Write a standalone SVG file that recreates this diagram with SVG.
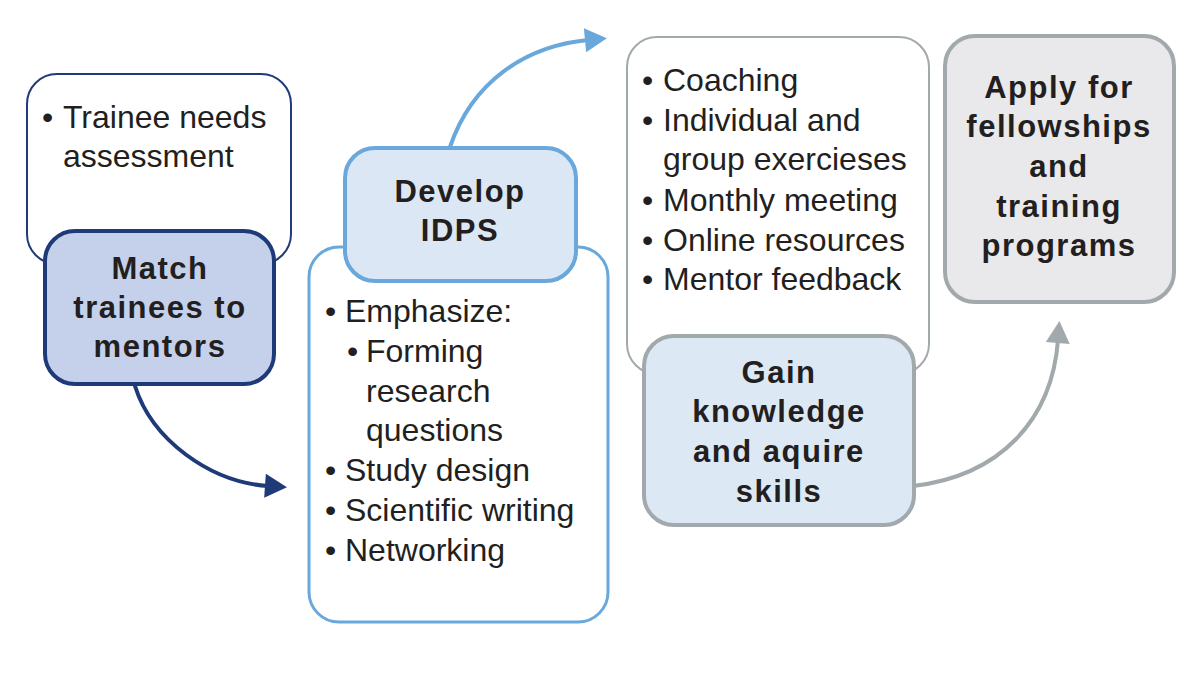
<svg xmlns="http://www.w3.org/2000/svg" width="1200" height="675" viewBox="0 0 1200 675">
<style>
.t{font-family:"Liberation Sans",Arial,sans-serif;font-size:32px;fill:#231f20}
.b{font-family:"Liberation Sans",Arial,sans-serif;font-size:31px;font-weight:bold;fill:#231f20;letter-spacing:1.5px;text-anchor:middle}
</style>
<defs>
<marker id="mNavy" markerWidth="8" markerHeight="8" refX="1" refY="4" orient="auto" markerUnits="userSpaceOnUse" viewBox="0 0 8 8" overflow="visible">
<path d="M-2,-12 L20,0 L-2,12 Z" transform="translate(0,4)" fill="#1f3a78"/>
</marker>
<marker id="mBlue" markerWidth="8" markerHeight="8" refX="1" refY="4" orient="auto" markerUnits="userSpaceOnUse" viewBox="0 0 8 8" overflow="visible">
<path d="M-2,-12 L20,0 L-2,12 Z" transform="translate(0,4)" fill="#6aa8dc"/>
</marker>
<marker id="mGray" markerWidth="8" markerHeight="8" refX="1" refY="4" orient="auto" markerUnits="userSpaceOnUse" viewBox="0 0 8 8" overflow="visible">
<path d="M-2,-12 L20,0 L-2,12 Z" transform="translate(0,4)" fill="#a2a9ac"/>
</marker>
</defs>
<rect width="1200" height="675" fill="#ffffff"/>

<g id="connectors" fill="none" stroke-linecap="round">
<path d="M135,386 C152,440 210,482 268,486" stroke="#1f3a78" stroke-width="4" marker-end="url(#mNavy)"/>
<path d="M450,147 C472,82 525,46 588,40" stroke="#6aa8dc" stroke-width="4" marker-end="url(#mBlue)"/>
<path d="M913,486 C1000,476 1052,420 1058,340" stroke="#a2a9ac" stroke-width="4" marker-end="url(#mGray)"/>
</g>

<g id="trainee-needs">
<rect x="27" y="74" width="264" height="190" rx="30" fill="#ffffff" stroke="#1f3a78" stroke-width="2"/>
<text class="t" x="42" y="128">•</text>
<text class="t" x="63" y="128">Trainee needs</text>
<text class="t" x="63" y="167">assessment</text>
</g>

<g id="match">
<rect x="45" y="231" width="229" height="153" rx="30" fill="#c5d1eb" stroke="#1f3a78" stroke-width="4"/>
<text class="b" x="160" y="279">Match</text>
<text class="b" x="160" y="318">trainees to</text>
<text class="b" x="160" y="357">mentors</text>
</g>

<g id="emphasize">
<rect x="309" y="247" width="299" height="375" rx="30" fill="#ffffff" stroke="#6aa8dc" stroke-width="3"/>
<text class="t" x="325" y="322">•</text>
<text class="t" x="345" y="322">Emphasize:</text>
<text class="t" x="347" y="362">•</text>
<text class="t" x="366" y="362">Forming</text>
<text class="t" x="366" y="402">research</text>
<text class="t" x="366" y="441">questions</text>
<text class="t" x="325" y="481">•</text>
<text class="t" x="345" y="481">Study design</text>
<text class="t" x="325" y="521">•</text>
<text class="t" x="345" y="521">Scientific writing</text>
<text class="t" x="325" y="561">•</text>
<text class="t" x="345" y="561">Networking</text>
</g>

<g id="develop">
<rect x="345" y="148" width="231" height="133" rx="30" fill="#dce7f5" stroke="#6aa8dc" stroke-width="4"/>
<text class="b" x="460" y="202">Develop</text>
<text class="b" x="460" y="241">IDPS</text>
</g>

<g id="activities">
<rect x="627" y="37" width="302" height="337" rx="30" fill="#ffffff" stroke="#a2a9ac" stroke-width="2"/>
<text class="t" x="642" y="91">•</text>
<text class="t" x="663" y="91">Coaching</text>
<text class="t" x="642" y="131">•</text>
<text class="t" x="663" y="131">Individual and</text>
<text class="t" x="663" y="170">group exercieses</text>
<text class="t" x="642" y="211">•</text>
<text class="t" x="663" y="211">Monthly meeting</text>
<text class="t" x="642" y="251">•</text>
<text class="t" x="663" y="251">Online resources</text>
<text class="t" x="642" y="290">•</text>
<text class="t" x="663" y="290">Mentor feedback</text>
</g>

<g id="gain">
<rect x="644" y="336" width="270" height="189" rx="30" fill="#dde8f5" stroke="#a2a9ac" stroke-width="4"/>
<text class="b" x="779" y="383">Gain</text>
<text class="b" x="779" y="422">knowledge</text>
<text class="b" x="779" y="462">and aquire</text>
<text class="b" x="779" y="502">skills</text>
</g>

<g id="apply">
<rect x="945" y="36" width="229" height="266" rx="30" fill="#e9e9eb" stroke="#a2a9ac" stroke-width="4"/>
<text class="b" x="1059" y="98">Apply for</text>
<text class="b" x="1059" y="137">fellowships</text>
<text class="b" x="1059" y="177">and</text>
<text class="b" x="1059" y="217">training</text>
<text class="b" x="1059" y="256">programs</text>
</g>
</svg>
